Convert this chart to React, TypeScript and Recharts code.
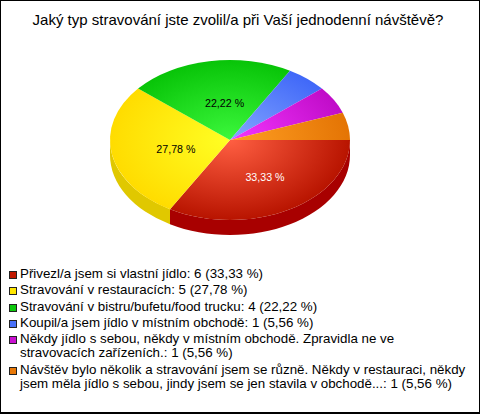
import React from 'react';
import { PieChart, Pie, Legend } from 'recharts';

const title = 'Jaký typ stravování jste zvolil/a při Vaší jednodenní návštěvě?';
const names = [
  'Přivezl/a jsem si vlastní jídlo',
  'Stravování v restauracích',
  'Stravování v bistru/bufetu/food trucku',
  'Koupil/a jsem jídlo v místním obchodě',
  'Někdy jídlo s sebou, někdy v místním obchodě. Zpravidla ne ve stravovacích zařízeních.',
  'Návštěv bylo několik a stravování jsem se různě. Někdy v restauraci, někdy jsem měla jídlo s sebou, jindy jsem se jen stavila v obchodě...',
];
const values = [6, 5, 4, 1, 1, 1];
const percents = ['33,33', '27,78', '22,22', '5,56', '5,56', '5,56'];
const legendColors = ['#c01800', '#ffe600', '#0cc80c', '#4870f8', '#c810d0', '#e87808'];
const innerColors = ['#ff5f42', '#ffff24', '#3cf83c', '#84a6ff', '#f436ff', '#ffa024'];
const outerColors = ['#b81400', '#ffdc00', '#08c408', '#4068f8', '#c00cc8', '#e47404'];
const sideColors = ['#a80000', '#e0c800', '#08a008', '#3050c0', '#a008a8', '#c06000'];

const data = names.map((name, i) => ({ name, value: values[i], fill: legendColors[i] }));

const FLATTEN = 2 / 3;
const DEPTH = 15;
const RAD = Math.PI / 180;

function Slice(props: any) {
  const { cx, cy, outerRadius, startAngle, endAngle, index } = props;
  const rx = outerRadius;
  const ry = outerRadius * FLATTEN;
  const pt = (a: number, dy = 0) => [cx + rx * Math.cos(a * RAD), cy + dy - ry * Math.sin(a * RAD)];
  const [x1, y1] = pt(startAngle);
  const [x2, y2] = pt(endAngle);
  const large = Math.abs(endAngle - startAngle) > 180 ? 1 : 0;
  const top = `M${cx},${cy}L${x1},${y1}A${rx},${ry} 0 ${large} 1 ${x2},${y2}Z`;
  const s = Math.max(startAngle, -180);
  const e = Math.max(endAngle, -180);
  let side = null;
  if (s > e) {
    const [a, b] = pt(s);
    const [c, d] = pt(e);
    side = (
      <path
        d={`M${a},${b}A${rx},${ry} 0 0 1 ${c},${d}L${c},${d + DEPTH}A${rx},${ry} 0 0 0 ${a},${b + DEPTH}Z`}
        fill={sideColors[index]}
      />
    );
  }
  const id = `slice-grad-${index}`;
  return (
    <g>
      <defs>
        <radialGradient
          id={id}
          gradientUnits="userSpaceOnUse"
          cx={0}
          cy={0}
          r={1}
          gradientTransform={`translate(${cx} ${cy}) scale(${rx} ${ry})`}
        >
          <stop offset="0" stopColor={innerColors[index]} />
          <stop offset="1" stopColor={outerColors[index]} />
        </radialGradient>
      </defs>
      {side}
      <path d={top} fill={`url(#${id})`} />
    </g>
  );
}

function SliceLabel(props: any) {
  const { cx, cy, outerRadius, midAngle, index } = props;
  if (index > 2) return null;
  const x = cx + outerRadius * 0.5 * Math.cos(midAngle * RAD) + 5;
  const y = cy - outerRadius * FLATTEN * 0.5 * Math.sin(midAngle * RAD) + 2;
  return (
    <text
      x={x}
      y={y}
      textAnchor="middle"
      dominantBaseline="central"
      fontFamily="'Liberation Sans', Arial, sans-serif"
      fontSize={10.67}
      fill={index === 0 ? '#ffffff' : '#000000'}
    >
      {percents[index]} %
    </text>
  );
}

function LegendBox() {
  return (
    <div style={{ fontFamily: "'Liberation Sans', Arial, sans-serif", fontSize: 13.33, lineHeight: '14.3px', color: '#000' }}>
      {names.map((n, i) => (
        <div key={i} style={{ position: 'relative', paddingLeft: 12, marginBottom: 2 }}>
          <span
            style={{
              position: 'absolute',
              left: 1,
              top: 4,
              width: 6,
              height: 6,
              border: '1px solid #222',
              background: legendColors[i],
            }}
          />
          {n}: {values[i]} ({percents[i]} %)
        </div>
      ))}
    </div>
  );
}

export default function App() {
  return (
    <div
      style={{
        position: 'absolute',
        left: 0,
        top: 0,
        width: 480,
        height: 414,
        boxSizing: 'border-box',
        borderStyle: 'solid',
        borderColor: '#000',
        borderWidth: '1px 1px 2px 1px',
        background: '#fff',
        overflow: 'hidden',
      }}
    >
      <div
        style={{
          position: 'absolute',
          left: -1,
          top: 10,
          width: 476,
          textAlign: 'center',
          fontFamily: "'Liberation Sans', Arial, sans-serif",
          fontSize: 15,
          color: '#000',
          whiteSpace: 'nowrap',
        }}
      >
        {title}
      </div>
      <div style={{ position: 'absolute', left: -1, top: -1 }}>
        <PieChart width={480} height={414} margin={{ top: 0, right: 0, bottom: 0, left: 0 }}>
          <Pie
            data={data}
            dataKey="value"
            nameKey="name"
            cx={230}
            cy={140}
            innerRadius={0}
            outerRadius={120}
            startAngle={0}
            endAngle={-360}
            stroke="none"
            isAnimationActive={false}
            shape={Slice}
            inactiveShape={Slice}
            label={SliceLabel}
            labelLine={false}
          />
          <Legend
            content={LegendBox}
            layout="vertical"
            wrapperStyle={{ position: 'absolute', left: 8, top: 267, width: 462, bottom: 'auto', right: 'auto' }}
          />
        </PieChart>
      </div>
    </div>
  );
}
